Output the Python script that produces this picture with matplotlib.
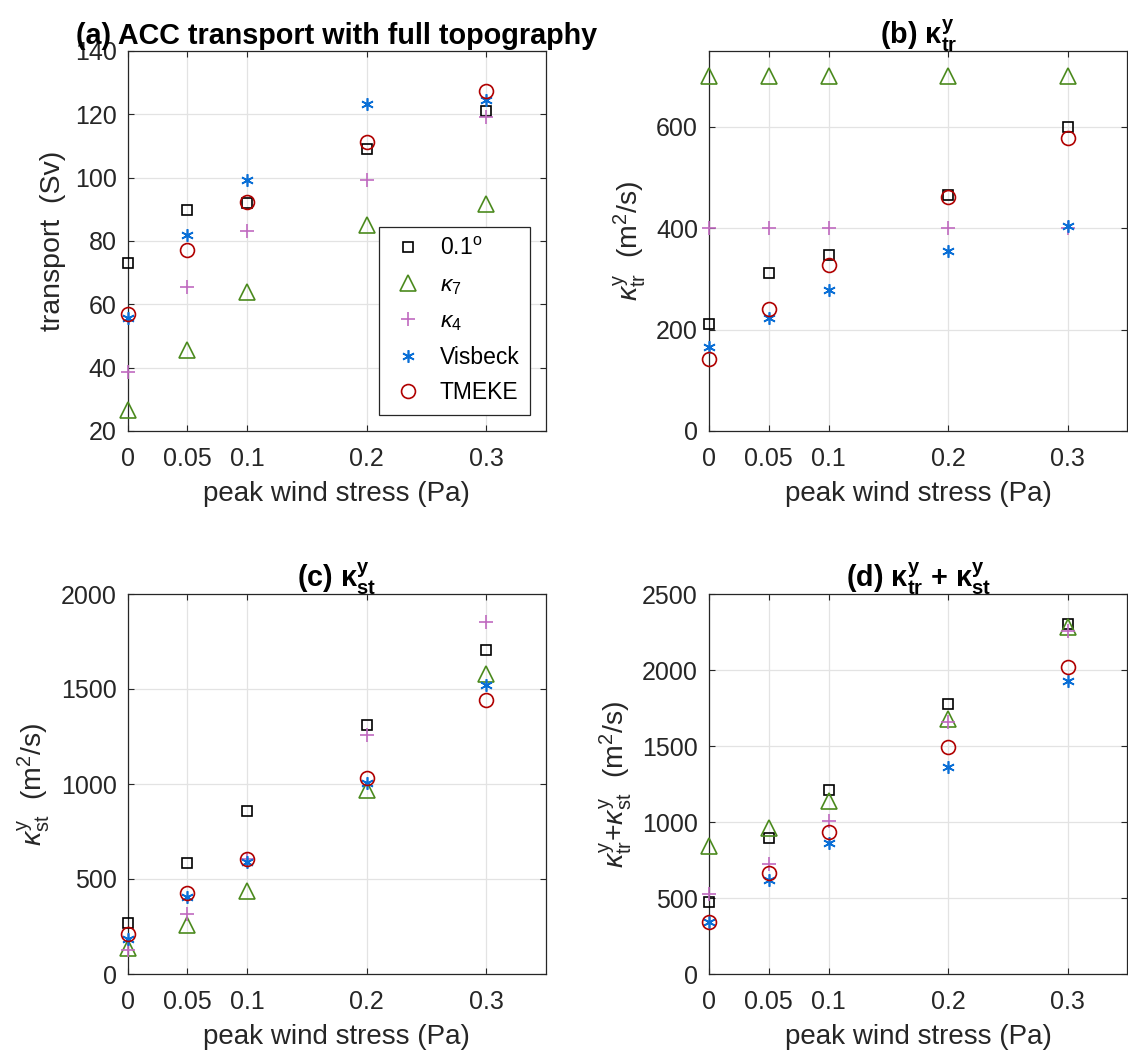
import matplotlib
matplotlib.use("Agg")
import matplotlib.pyplot as plt

plt.rcParams['font.family'] = ['Liberation Sans', 'DejaVu Sans']
plt.rcParams['mathtext.fontset'] = 'custom'
plt.rcParams['mathtext.rm'] = 'Liberation Sans'
plt.rcParams['mathtext.it'] = 'Liberation Sans:italic'
plt.rcParams['mathtext.bf'] = 'Liberation Sans:bold'

# ---------------- data ----------------
wind = [0, 0.05, 0.1, 0.2, 0.3]
xtick_labels = ['0', '0.05', '0.1', '0.2', '0.3']

series_names = ['0.1$^{\\rm o}$', '$\\kappa_{\\rm 7}$', '$\\kappa_{\\rm 4}$', 'Visbeck', 'TMEKE']

# (a) ACC transport (Sv)
transport_01 = [73.2, 89.9, 92.0, 109.1, 121.1]
transport_k7 = [26.6, 45.7, 63.9, 85.1, 91.8]
transport_k4 = [38.6, 65.6, 83.3, 99.3, 119.2]
transport_vis = [55.8, 81.8, 99.4, 123.2, 124.5]
transport_tmeke = [57.1, 77.2, 92.2, 111.3, 127.5]

# (b) kappa_tr (m2/s)
ktr_01 = [211, 312, 348, 466, 600]
ktr_k7 = [700, 700, 700, 700, 700]
ktr_k4 = [400, 400, 400, 400, 400]
ktr_vis = [165, 224, 278, 356, 404]
ktr_tmeke = [142, 240, 328, 461, 578]

# (c) kappa_st (m2/s)
kst_01 = [267, 582, 859, 1312, 1705]
kst_k7 = [138, 260, 435, 970, 1577]
kst_k4 = [125, 317, 605, 1257, 1851]
kst_vis = [186, 406, 589, 1006, 1522]
kst_tmeke = [208, 428, 603, 1030, 1440]

# (d) kappa_tr + kappa_st (m2/s)
ksum_01 = [474, 895, 1211, 1779, 2305]
ksum_k7 = [839, 962, 1135, 1676, 2283]
ksum_k4 = [526, 721, 1009, 1656, 2256]
ksum_vis = [345, 620, 864, 1363, 1927]
ksum_tmeke = [345, 665, 933, 1493, 2019]

# ---------------- styles ----------------
styles = [
    dict(marker='s', ms=7, color='#000000'),
    dict(marker='^', ms=11, color='#4b8a1e'),
    dict(marker='+', ms=10, color='#c06ac0'),
    dict(marker=(6, 2, 0), ms=9, color='#0a6fd6'),
    dict(marker='o', ms=10, color='#b00000'),
]

W, H = 1128, 1055
fig = plt.figure(figsize=(W / 100, H / 100), dpi=100)

def rect(l, r, t, b):
    return [l / W, (H - b) / H, (r - l) / W, (b - t) / H]

axes_rects = [
    rect(127.7, 546.0, 51, 431),
    rect(709.0, 1127.3, 51, 431),
    rect(127.7, 546.0, 594, 974),
    rect(709.0, 1127.3, 594, 974),
]

panels = [
    dict(data=[transport_01, transport_k7, transport_k4, transport_vis, transport_tmeke],
         ylim=(20, 140), yticks=[20, 40, 60, 80, 100, 120, 140],
         title='(a) ACC transport with full topography',
         ylabel='transport  (Sv)'),
    dict(data=[ktr_01, ktr_k7, ktr_k4, ktr_vis, ktr_tmeke],
         ylim=(0, 750), yticks=[0, 200, 400, 600],
         title=r'(b) $\mathbf{\kappa}^{\mathbf{y}}_{\mathbf{tr}}$',
         ylabel=r'$\kappa^{\rm y}_{\rm tr}$  (m$^2$/s)'),
    dict(data=[kst_01, kst_k7, kst_k4, kst_vis, kst_tmeke],
         ylim=(0, 2000), yticks=[0, 500, 1000, 1500, 2000],
         title=r'(c) $\mathbf{\kappa}^{\mathbf{y}}_{\mathbf{st}}$',
         ylabel=r'$\kappa^{\rm y}_{\rm st}$  (m$^2$/s)'),
    dict(data=[ksum_01, ksum_k7, ksum_k4, ksum_vis, ksum_tmeke],
         ylim=(0, 2500), yticks=[0, 500, 1000, 1500, 2000, 2500],
         title=r'(d) $\mathbf{\kappa}^{\mathbf{y}}_{\mathbf{tr}}$ + $\mathbf{\kappa}^{\mathbf{y}}_{\mathbf{st}}$',
         ylabel=r'$\kappa^{\rm y}_{\rm tr}$+$\kappa^{\rm y}_{\rm st}$  (m$^2$/s)'),
]

axc = '#262626'
for i, (p, r) in enumerate(zip(panels, axes_rects)):
    ax = fig.add_axes(r)
    for vals, st, name in zip(p['data'], styles, series_names):
        ax.plot(wind, vals, linestyle='none', marker=st['marker'], markersize=st['ms'],
                markerfacecolor='none', markeredgecolor=st['color'], markeredgewidth=1.2,
                color=st['color'], clip_on=False, label=name, zorder=3)
    ax.set_xlim(0, 0.35)
    ax.set_ylim(*p['ylim'])
    ax.set_xticks(wind)
    ax.set_xticklabels(xtick_labels)
    ax.set_yticks(p['yticks'])
    ax.grid(True, color='#e3e3e3', linewidth=0.9)
    ax.set_axisbelow(True)
    ax.tick_params(direction='in', top=True, right=True, length=4, width=0.8,
                   labelsize=18, colors=axc)
    ax.tick_params(axis='x', pad=11.5)
    ax.tick_params(axis='y', pad=8)
    for s in ax.spines.values():
        s.set_color(axc)
        s.set_linewidth(0.9)
    ax.set_xlabel('peak wind stress (Pa)', fontsize=20, color=axc, labelpad=7)
    ax.set_ylabel(p['ylabel'], fontsize=20.5, color=axc, labelpad=6)
    ax.set_title(p['title'], fontsize=20.7, fontweight='bold', color='black', pad=5)
    if i == 0:
        leg = ax.legend(loc='lower right', bbox_to_anchor=(0.961, 0.043), borderaxespad=0,
                        fontsize=16.5, frameon=True, fancybox=False, framealpha=1,
                        edgecolor=axc, labelspacing=0.55, handletextpad=0.6,
                        borderpad=0.45, handlelength=1.6)
        leg.get_frame().set_linewidth(0.9)

fig.savefig('out.png', dpi=100)
